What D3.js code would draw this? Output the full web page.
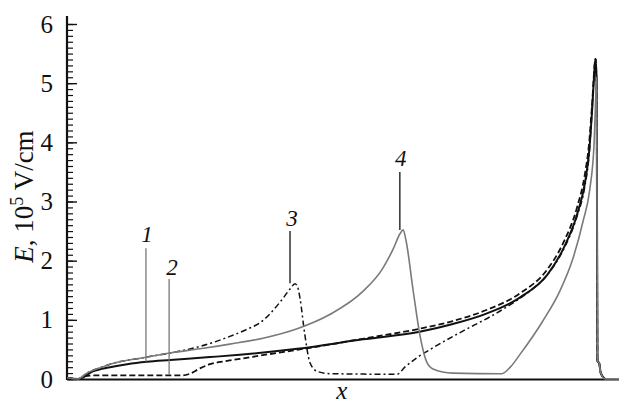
<!DOCTYPE html>
<html>
<head>
<meta charset="utf-8">
<script src="https://cdn.jsdelivr.net/npm/d3@7"></script>
<style>
    body { margin: 0; background: #fff; }
    svg { display: block; }
    svg text { font-family: "Liberation Serif", "Times New Roman", Times, serif !important; }
</style>
</head>
<body>
<div id="chart"></div>
<script>
// x has no units on the plot: position along the sample, 0..100 % of the axis length
// E in 10^5 V/cm
const curve1 = [[0, 0.02], [2.0, 0], [4.7, 0.13], [7.8, 0.2], [10.9, 0.25], [14.5, 0.29], [18.7, 0.32],
    [25.9, 0.37], [31.3, 0.41], [41.7, 0.51], [53.6, 0.67], [63.9, 0.8], [69.9, 0.93], [76.1, 1.11],
    [82.1, 1.38], [87.0, 1.76], [89.9, 2.2], [92.4, 2.78], [93.8, 3.3], [94.6, 3.85], [95.1, 4.5],
    [95.55, 5.2], [95.75, 5.41], [95.95, 5.0], [96.1, 0.3], [96.4, 0.27], [96.7, 0.1], [97.5, 0]];

const curve2 = [[0, 0.02], [2.0, 0], [3.3, 0.05], [5.1, 0.06], [21.0, 0.06], [22.3, 0.09], [24.1, 0.18],
    [25.9, 0.25], [28.6, 0.3], [31.3, 0.34], [36.6, 0.42], [42.2, 0.5], [53.6, 0.68], [63.9, 0.85],
    [69.9, 0.98], [76.1, 1.17], [82.1, 1.45], [87.0, 1.85], [89.9, 2.3], [92.4, 2.9], [93.8, 3.45],
    [94.6, 4.0], [95.1, 4.6], [95.75, 5.41], [95.95, 5.0], [96.1, 0.3], [96.4, 0.27], [96.7, 0.1], [97.5, 0]];

const curve3 = [[0, 0.02], [2.0, 0], [3.6, 0.1], [6.0, 0.19], [7.8, 0.25], [13.8, 0.36], [18.7, 0.44],
    [24.1, 0.55], [29.5, 0.72], [32.6, 0.84], [35.1, 0.96], [38.6, 1.3], [40.4, 1.52], [41.3, 1.61],
    [41.8, 1.55], [42.2, 1.37], [43.1, 0.74], [44.0, 0.28], [45.3, 0.13], [47.6, 0.09], [59.8, 0.08],
    [61.2, 0.2], [63.4, 0.36], [65.8, 0.5], [71.7, 0.81], [76.6, 1.05], [79.7, 1.22], [83.9, 1.49],
    [87.0, 1.76], [89.9, 2.18], [92.4, 2.75], [93.8, 3.25], [94.6, 3.8], [95.1, 4.5], [95.75, 5.41],
    [95.95, 5.0], [96.1, 0.3], [96.4, 0.27], [96.7, 0.1], [97.5, 0]];

const curve4 = [[0, 0.02], [2.0, 0], [3.6, 0.1], [6.0, 0.19], [7.8, 0.25], [13.8, 0.36], [18.7, 0.44],
    [24.1, 0.51], [29.5, 0.59], [35.5, 0.69], [41.7, 0.85], [47.6, 1.09], [53.6, 1.48], [57.2, 1.87],
    [59.1, 2.2], [60.3, 2.45], [60.9, 2.52], [61.4, 2.35], [62.7, 1.5], [63.9, 0.76], [65.2, 0.28],
    [66.3, 0.17], [69.9, 0.1], [78.8, 0.09], [80.3, 0.2], [82.1, 0.42], [86.2, 0.98], [89.3, 1.49],
    [91.7, 2.05], [93.5, 2.67], [94.7, 3.2], [95.5, 4.0], [95.8, 4.8], [95.95, 5.1], [96.1, 0.3],
    [96.4, 0.27], [96.7, 0.1], [97.5, 0], [100, 0]];

// curve labels: name, x of pointer, E at top of pointer, E at bottom of pointer, E of label baseline
const labelNames = ["1", "2", "3", "4"];
const labelX = [14.3, 18.5, 40.4, 60.3];
const labelTopE = [2.21, 1.69, 2.5, 3.5];
const labelBottomE = [0.29, 0.07, 1.62, 2.52];
const labelTextE = [2.31, 1.76, 2.58, 3.6];
const labelDx = [1, 3, 2, 1];
const labelLineColor = ["#777", "#777", "#111", "#111"];

const yMajorTicks = [0, 1, 2, 3, 4, 5, 6];

const width = 619, height = 403;
const margin = {top: 24, right: 0, bottom: 24, left: 67};

let x = d3.scaleLinear().domain([0, 100]).range([margin.left, width - margin.right]),
    y = d3.scaleLinear().domain([0, 6]).range([height - margin.bottom, margin.top]);

let svg = d3.select("#chart")
    .append("svg")
    .attr("width", width)
    .attr("height", height);

function drawAxes() {
    // minor ticks every 0.1
    svg.append("g")
        .attr("class", "y axis minor")
        .attr("transform", "translate(" + margin.left + ",0)")
        .call(d3.axisLeft(y).tickValues(d3.range(0, 60.5, 1).map(d => d / 10)).tickSize(-6).tickFormat(""))
        .call(g => g.select(".domain").remove())
        .call(g => g.selectAll("line").attr("stroke", "#111").attr("stroke-width", 1.2));

    svg.append("g")
        .attr("class", "y axis major")
        .attr("transform", "translate(" + margin.left + ",0)")
        .attr("font-family", null)
        .call(d3.axisLeft(y).tickValues(yMajorTicks).tickSize(-10).tickPadding(14).tickFormat(d3.format("d")))
        .call(g => g.select(".domain").remove())
        .call(g => g.selectAll("line").attr("stroke", "#111").attr("stroke-width", 1.4))
        .call(g => g.selectAll("text")
            .attr("font-size", 25)
            .attr("fill", "#111"));

    svg.append("line")
        .attr("x1", margin.left)
        .attr("x2", margin.left)
        .attr("y1", y(0) + 1)
        .attr("y2", margin.top - 8)
        .style("stroke", "#111")
        .style("stroke-width", 2.2);

    svg.append("g")
        .attr("class", "x axis")
        .attr("transform", "translate(0," + y(0) + ")")
        .call(d3.axisBottom(x).tickValues([]).tickSizeOuter(0))
        .call(g => g.select(".domain").attr("stroke", "#111").attr("stroke-width", 2.2));

    svg.append("text")
        .attr("x", x(49.8))
        .attr("y", height - 4)
        .attr("text-anchor", "middle")
        .attr("font-style", "italic")
        .attr("font-size", 25)
        .attr("fill", "#111")
        .text("x");

    let yLabel = svg.append("text")
        .attr("transform", "translate(33," + (y(3) - 5) + ") rotate(-90)")
        .attr("text-anchor", "middle")
        .attr("font-size", 27)
        .attr("fill", "#111");
    yLabel.append("tspan").attr("font-style", "italic").text("E");
    yLabel.append("tspan").text(", 10");
    yLabel.append("tspan").attr("font-size", 18).attr("dy", -10).text("5");
    yLabel.append("tspan").attr("dy", 10).text(" V/cm");
}

function drawCurve(data, color, widthPx, dash) {
    let line = d3.line()
        .x(function (d) { return x(d[0]); })
        .y(function (d) { return y(d[1]); })
        .curve(d3.curveMonotoneX);

    svg.append("path")
        .datum(data)
        .attr("d", line)
        .style("fill", "none")
        .style("stroke", color)
        .style("stroke-width", widthPx)
        .style("stroke-linejoin", "round")
        .style("stroke-dasharray", dash);
}

function drawLabels() {
    labelNames.forEach(function (name, i) {
        svg.append("line")
            .attr("x1", x(labelX[i]))
            .attr("x2", x(labelX[i]))
            .attr("y1", y(labelTopE[i]))
            .attr("y2", y(labelBottomE[i]))
            .style("stroke", labelLineColor[i])
            .style("stroke-width", 1.3);

        svg.append("text")
            .attr("x", x(labelX[i]) + labelDx[i])
            .attr("y", y(labelTextE[i]))
            .attr("text-anchor", "middle")
            .attr("font-style", "italic")
            .attr("font-size", 23)
            .attr("fill", "#111")
            .text(name);
    });
}

drawAxes();
drawCurve(curve1, "#111", 2, "none");
drawCurve(curve2, "#111", 1.8, "6,3");
drawCurve(curve3, "#111", 1.5, "6,3,2,3");
drawCurve(curve4, "#7a7a7a", 1.6, "none");
drawLabels();
</script>
</body>
</html>
